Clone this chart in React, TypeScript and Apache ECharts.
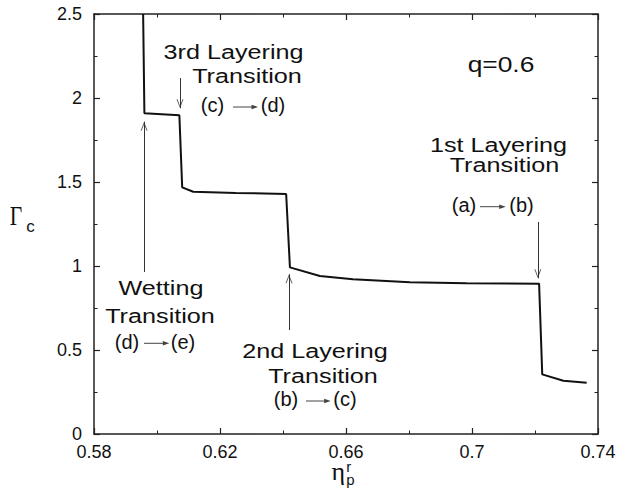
import React, { useEffect, useRef } from 'react';
import * as echarts from 'echarts';

// ---- data ----
const etaValues = [0.5956, 0.596, 0.6071, 0.608, 0.6115, 0.625, 0.641, 0.6422, 0.6517, 0.6622, 0.6803, 0.6983, 0.7213, 0.7223, 0.729, 0.7364];
const gammaValues = [2.5, 1.909, 1.897, 1.468, 1.442, 1.435, 1.429, 0.992, 0.94, 0.921, 0.903, 0.897, 0.895, 0.355, 0.317, 0.305];

// vertical annotation arrows (data coordinates)
const arrowEta = [0.5959, 0.6073, 0.6419, 0.7209];
const arrowFrom = [0.964, 2.119, 0.619, 1.262];
const arrowTo = [1.859, 1.939, 0.951, 0.927];

// annotation texts
const titleTexts = ['3rd Layering', 'Transition', '1st Layering', 'Transition', 'Wetting', 'Transition', '2nd Layering', 'Transition'];
const stateFrom = ['(c)', '(a)', '(d)', '(b)'];
const stateTo = ['(d)', '(b)', '(e)', '(c)'];
const paramText = 'q=0.6';

// annotation placement (pixels)
const titleX = [233.5, 247, 498.5, 504.5, 161, 160, 315, 323];
const titleY = [52.2, 76, 144.4, 164.4, 287.7, 316, 351, 376];
const stateFromX = [212.5, 464, 127, 286];
const stateToX = [273, 521.5, 183, 345];
const stateArrowX1 = [233, 480, 144, 306];
const stateArrowX2 = [258, 505.7, 169.3, 330.7];
const stateY = [107, 206.7, 343.3, 401];

const SANS = '"Liberation Sans", Arial, Helvetica, sans-serif';
const SERIF = '"Liberation Serif", "Times New Roman", serif';
const INK = '#111';
const CHEVRON = 'path://M5,0 L10,10 L8.6,10 L5,2.8 L1.4,10 L0,10 Z';

export default function App() {
  const ref = useRef<HTMLDivElement>(null);
  useEffect(() => {
    const chart = echarts.init(ref.current!, null, { renderer: 'svg' });

    const axisBase: any = {
      type: 'value',
      axisLine: { show: true, onZero: false, lineStyle: { color: '#222', width: 1.5 } },
      axisTick: { show: true, inside: true, length: 6, lineStyle: { color: '#222', width: 1.2 } },
      minorTick: { show: true, splitNumber: 2, length: 3.5, lineStyle: { color: '#222', width: 1 } },
      splitLine: { show: false },
      minorSplitLine: { show: false },
    };
    const xBase = { ...axisBase, min: 0.58, max: 0.74, interval: 0.04 };
    const yBase = { ...axisBase, min: 0, max: 2.5, interval: 0.5 };
    const labelStyle = { color: INK, fontSize: 18, fontFamily: SANS };

    const graphic: any[] = [];
    titleTexts.forEach((t, i) => {
      graphic.push({
        type: 'text', x: titleX[i], y: titleY[i], scaleX: 1.2,
        style: { text: t, fill: INK, font: `21px ${SANS}`, textAlign: 'center', textVerticalAlign: 'middle' },
      });
    });
    graphic.push({
      type: 'text', x: 501, y: 64.7, scaleX: 1.2,
      style: { text: paramText, fill: INK, font: `22px ${SANS}`, textAlign: 'center', textVerticalAlign: 'middle' },
    });
    stateFrom.forEach((t, i) => {
      const y = stateY[i];
      graphic.push({
        type: 'text', x: stateFromX[i], y: y - 1.7,
        style: { text: t, fill: INK, font: `20px ${SANS}`, textAlign: 'center', textVerticalAlign: 'middle' },
      });
      graphic.push({
        type: 'text', x: stateToX[i], y: y - 1.7,
        style: { text: stateTo[i], fill: INK, font: `20px ${SANS}`, textAlign: 'center', textVerticalAlign: 'middle' },
      });
      const x1 = stateArrowX1[i];
      const x2 = stateArrowX2[i];
      graphic.push({
        type: 'line', shape: { x1, y1: y, x2: x2 - 4, y2: y },
        style: { stroke: '#444', lineWidth: 1 },
      });
      graphic.push({
        type: 'polygon', shape: { points: [[x2, y], [x2 - 6.5, y - 2.3], [x2 - 6.5, y + 2.3]] },
        style: { fill: '#444' },
      });
    });
    // axis names
    graphic.push({
      type: 'text', x: 16, y: 224.3 - 9, scaleX: 0.8,
      style: { text: 'Γ', fill: INK, font: `27px ${SERIF}`, textAlign: 'center', textVerticalAlign: 'middle' },
    });
    graphic.push({
      type: 'text', x: 30.5, y: 232.3 - 5.9,
      style: { text: 'c', fill: INK, font: `17px ${SANS}`, textAlign: 'center', textVerticalAlign: 'middle' },
    });
    graphic.push({
      type: 'text', x: 345, y: 480 - 8.8,
      style: { text: 'η', fill: INK, font: `26px ${SERIF}`, textAlign: 'right', textVerticalAlign: 'middle' },
    });
    graphic.push({
      type: 'text', x: 346.3, y: 473.2,
      style: { text: 'r\np', fill: INK, font: `15px ${SANS}`, lineHeight: 13.3, textAlign: 'left', textVerticalAlign: 'middle' },
    });

    const option: any = {
      animation: false,
      backgroundColor: '#ffffff',
      grid: { left: 94, right: 21, top: 14, bottom: 55, containLabel: false },
      xAxis: [
        { ...xBase, position: 'bottom', axisLabel: { ...labelStyle, margin: 9 } },
        { ...xBase, position: 'top', axisLabel: { show: false } },
      ],
      yAxis: [
        { ...yBase, position: 'left', axisLabel: { ...labelStyle, margin: 12 } },
        { ...yBase, position: 'right', axisLabel: { show: false } },
      ],
      series: [
        {
          type: 'line',
          xAxisIndex: 0,
          yAxisIndex: 0,
          data: etaValues.map((x, i) => [x, gammaValues[i]]),
          showSymbol: false,
          symbol: 'none',
          clip: true,
          lineStyle: { color: '#111', width: 2 },
          markLine: {
            silent: true,
            symbol: ['none', 'none'],
            label: { show: false },
            lineStyle: { color: '#333', width: 1, type: 'solid' },
            data: arrowEta.map((x, i) => [
              { coord: [x, arrowFrom[i]] },
              { coord: [x, arrowTo[i]] },
            ]),
          },
        },
        {
          type: 'scatter',
          silent: true,
          xAxisIndex: 0,
          yAxisIndex: 0,
          symbol: CHEVRON,
          symbolSize: [7, 9],
          itemStyle: { color: '#333' },
          data: arrowEta.map((x, i) => {
            const up = arrowTo[i] > arrowFrom[i];
            return {
              value: [x, arrowTo[i]],
              symbolRotate: up ? 0 : 180,
              symbolOffset: [0, up ? 4.5 : -4.5],
            };
          }),
        },
      ],
      graphic,
    };
    chart.setOption(option);
    return () => chart.dispose();
  }, []);
  return <div ref={ref} style={{ position: 'absolute', left: 0, top: 0, width: 619, height: 489 }} />;
}
